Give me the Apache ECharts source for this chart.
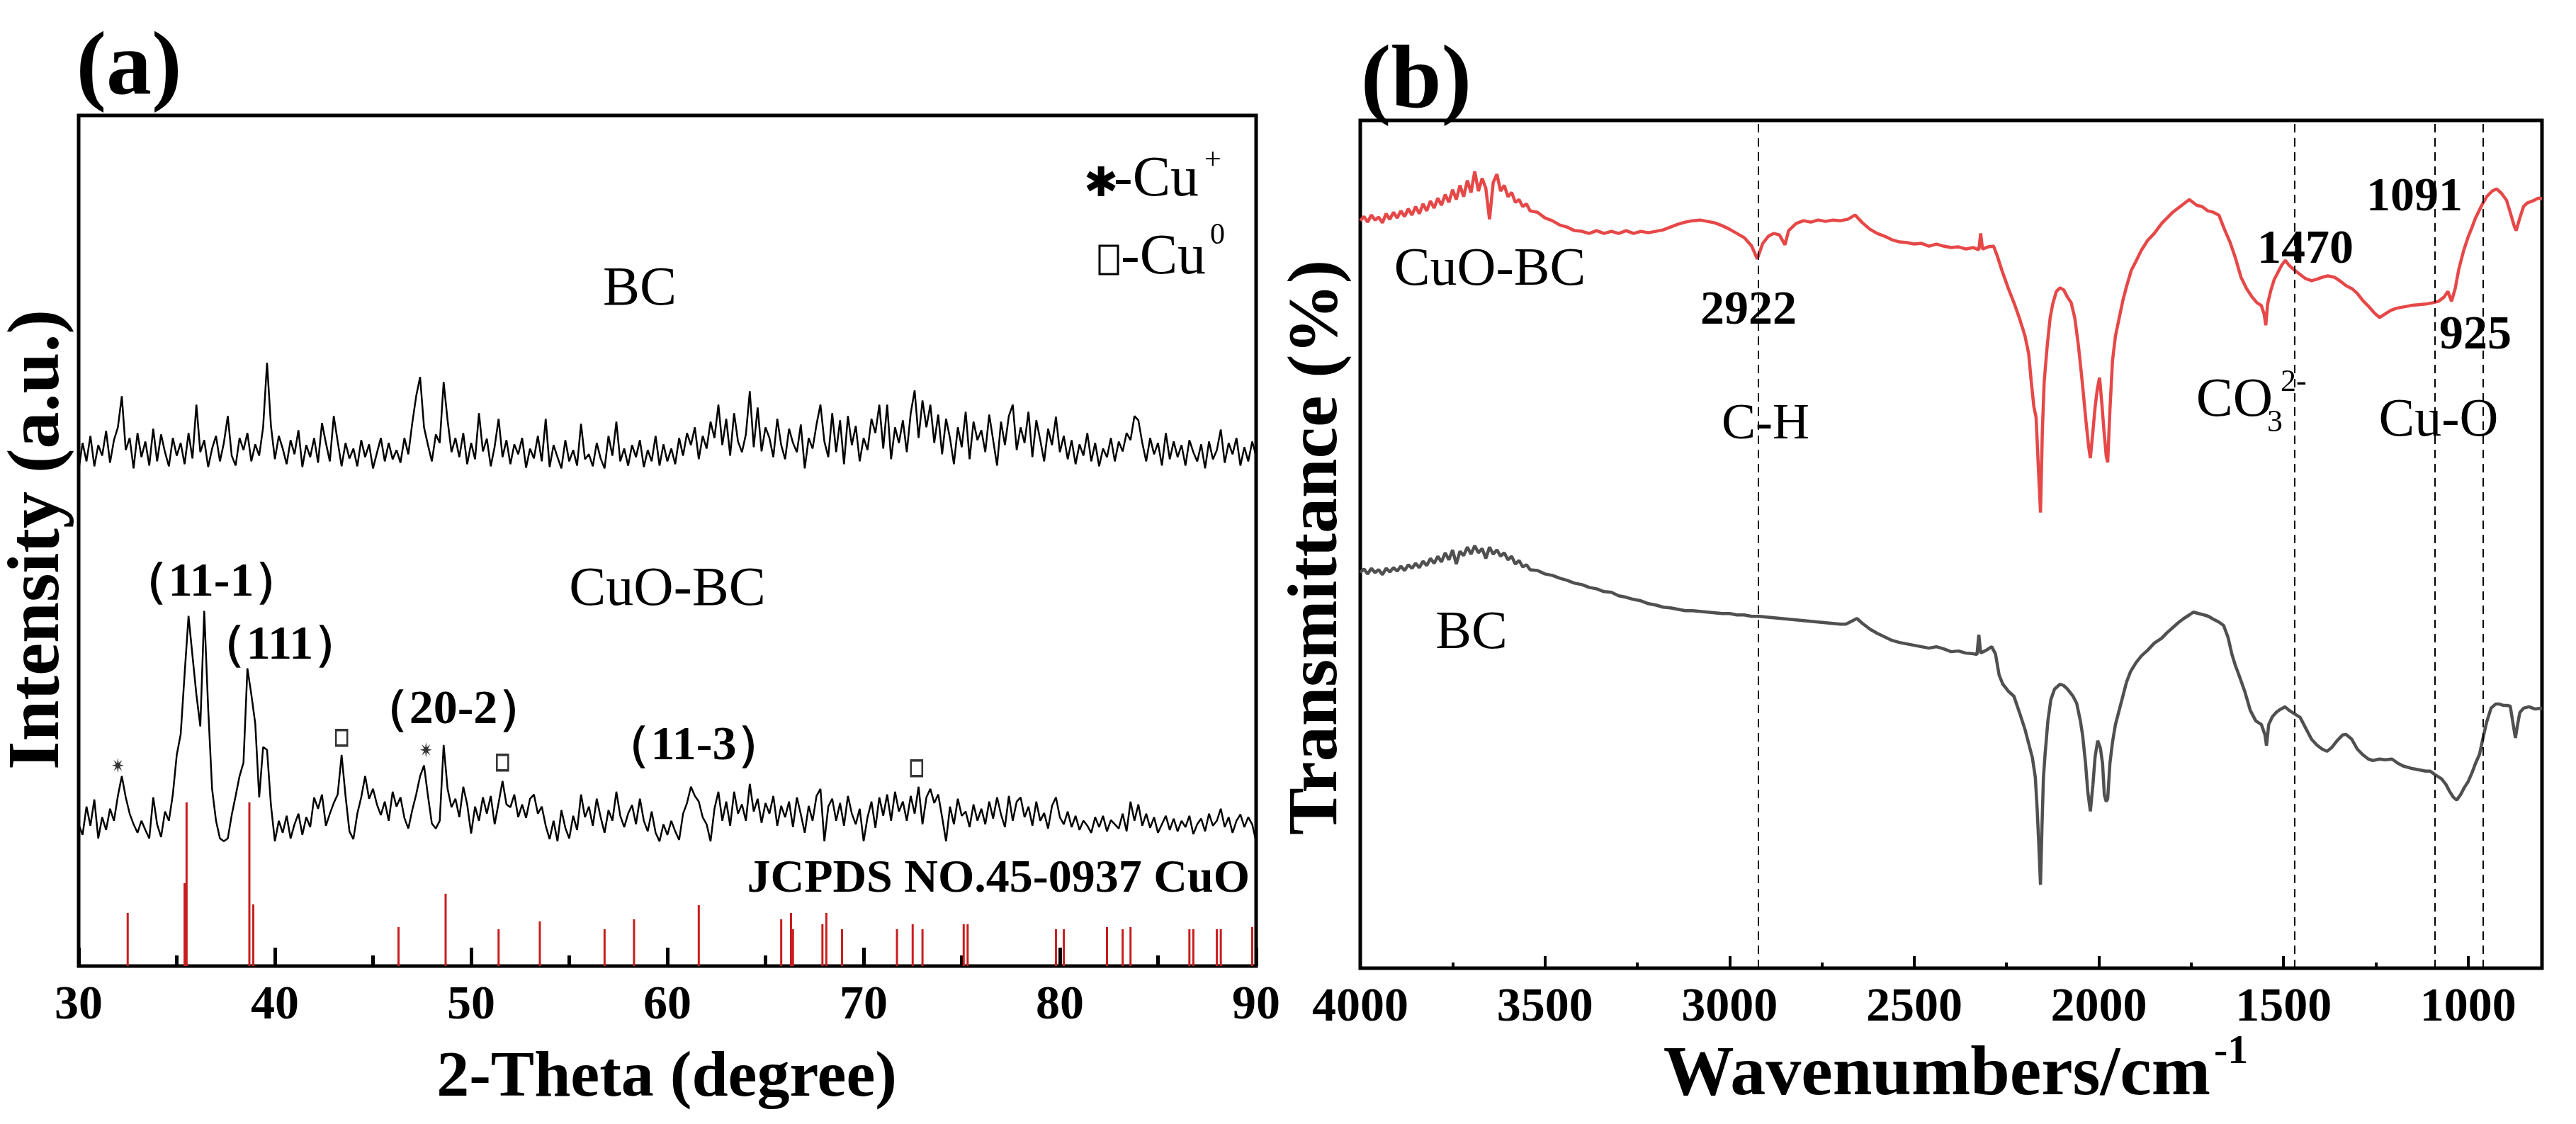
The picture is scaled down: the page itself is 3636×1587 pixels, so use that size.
<!DOCTYPE html>
<html>
<head>
<meta charset="utf-8">
<title>XRD and FTIR of CuO-BC / BC</title>
<script src="https://cdn.jsdelivr.net/npm/echarts@6/dist/echarts.min.js"></script>
<style>
  html, body { margin: 0; padding: 0; background: #fff; }
  #main { width: 3636px; height: 1587px; }
</style>
</head>
<body>
<div id="main"></div>
<script>
// (a) XRD, every 0.2 degree from 30 to 90
var xrdStart = 30;
var xrdStep = 0.2;
var xrdBC = [
  700,738,712,748,705,735,720,755,710,742,
  760,804,728,745,702,752,718,740,706,758,
  712,750,725,705,745,720,738,708,752,716,
  792,725,742,704,730,748,712,738,776,720,
  706,745,728,752,712,736,720,760,851,762,
  715,748,730,708,742,722,756,704,735,718,
  745,710,766,738,712,776,740,705,738,716,
  730,705,742,718,736,702,724,745,712,738,
  715,728,710,745,722,766,804,831,760,735,
  712,750,738,824,770,725,745,718,752,708,
  738,715,780,726,744,705,733,772,718,742,
  708,736,722,745,703,730,716,748,712,772,
  704,735,718,702,742,712,728,706,765,715,
  722,705,738,716,702,748,720,768,712,730,
  706,735,718,742,704,728,712,748,706,736,
  712,730,708,745,720,752,735,760,715,748,
  730,768,745,792,735,772,720,780,740,725,
  750,811,732,788,726,760,745,718,772,735,
  715,758,738,725,764,702,745,730,764,792,
  740,718,780,725,770,708,776,735,762,712,
  745,728,772,752,792,730,792,715,760,738,
  770,725,780,812,745,798,760,792,738,778,
  722,772,745,708,760,732,782,715,768,742,
  756,725,778,742,706,768,735,776,792,728,
  760,738,782,718,770,742,712,758,735,775,
  725,748,715,742,708,736,720,752,712,738,
  705,730,718,745,712,740,726,752,742,776,
  770,738,712,745,722,738,706,752,715,740,
  718,735,706,742,725,712,736,702,740,715,
  728,757,710,738,722,745,706,732,712,740,
  720
];
var xrdCuOBC = [
  200,185,225,198,235,180,210,192,222,205,
  240,268,238,215,200,188,205,192,180,238,
  200,182,218,205,242,298,327,412,494,438,
  383,338,501,364,250,205,180,176,180,213,
  240,268,287,420,383,342,238,309,305,227,
  176,205,188,212,180,200,215,185,210,196,
  238,222,242,198,215,230,242,298,240,190,
  179,215,238,268,236,250,228,213,232,205,
  246,225,238,209,194,220,242,268,283,240,
  201,194,205,312,250,224,236,210,253,228,
  187,225,205,238,215,240,200,230,261,228,
  224,242,210,228,209,236,242,215,225,198,
  179,205,176,220,195,180,212,192,242,210,
  225,198,236,210,188,220,205,246,212,196,
  215,227,200,236,205,190,218,188,176,200,
  185,205,190,178,215,230,253,240,232,210,
  200,176,222,246,205,232,198,246,215,228,
  205,257,218,236,202,230,215,240,198,226,
  210,232,196,238,214,188,226,205,240,250,
  176,225,236,205,230,198,240,215,200,222,
  176,210,232,195,238,212,242,205,246,218,
  232,205,240,215,253,200,238,250,230,242,
  210,176,225,200,236,212,218,196,228,205,
  222,200,232,208,238,214,196,240,205,232,
  238,210,225,198,232,205,216,194,226,238,
  210,200,218,196,212,192,205,198,188,210,
  196,212,190,206,200,194,215,190,232,205,
  228,198,215,195,210,188,200,212,192,208,
  190,205,196,212,186,200,208,190,215,198,
  205,222,196,210,188,205,214,196,210,200,
  176
];
// JCPDS No.45-0937 CuO reference lines
var jcpdsTheta = [32.5, 35.4, 35.5, 38.7, 38.9, 46.3, 48.7, 51.4, 53.5, 56.8, 58.3, 61.6, 65.8, 66.3, 66.4,
  67.9, 68.1, 68.9, 71.7, 72.5, 73.0, 75.1, 75.3, 79.8, 80.2, 82.4, 83.2, 83.6, 86.6, 86.8, 88.0, 88.2, 89.8];
var jcpdsHeight = [75, 117, 231, 231, 87, 55, 102, 52, 63, 52, 66, 86, 66, 75, 52,
  59, 75, 52, 52, 59, 52, 59, 59, 52, 52, 55, 52, 55, 52, 52, 52, 52, 55];
// peak markers: * = Cu+, open square = Cu0
var cuPlusPeaks = [[32.0, 283], [47.7, 305]];
var cu0Peaks = [[43.4, 322], [51.6, 287], [72.7, 279]];

// (b) FTIR, [wavenumber, transmittance (a.u.)]
var ftirCuOBC = [
  [4000,1058],[3990,1064],[3980,1056],[3970,1066],[3960,1059],[3950,1063],[3940,1055],[3930,1068],[3920,1060],[3910,1070],
  [3900,1062],[3890,1072],[3880,1064],[3870,1075],[3860,1066],[3850,1078],[3840,1068],[3830,1082],[3820,1072],[3810,1086],
  [3800,1076],[3790,1090],[3780,1080],[3770,1095],[3760,1084],[3750,1102],[3740,1088],[3730,1108],[3720,1092],[3710,1115],
  [3700,1098],[3690,1128],[3680,1100],[3670,1118],[3660,1104],[3650,1060],[3640,1112],[3630,1124],[3620,1100],[3610,1108],
  [3600,1092],[3590,1098],[3580,1084],[3570,1088],[3560,1078],[3550,1082],[3540,1072],[3520,1070],[3500,1062],[3480,1058],
  [3460,1052],[3440,1049],[3420,1044],[3400,1043],[3380,1040],[3360,1044],[3340,1040],[3320,1043],[3300,1040],[3280,1044],
  [3260,1040],[3240,1043],[3220,1041],[3200,1043],[3180,1045],[3160,1049],[3140,1053],[3120,1056],[3100,1058],[3080,1059],
  [3060,1057],[3040,1055],[3020,1051],[3000,1046],[2980,1040],[2960,1034],[2940,1022],[2925,1004],[2910,1026],[2895,1036],
  [2880,1040],[2865,1038],[2850,1024],[2840,1044],[2820,1054],[2800,1058],[2780,1056],[2760,1059],[2740,1057],[2720,1059],
  [2700,1058],[2680,1060],[2660,1066],[2640,1055],[2620,1046],[2600,1040],[2580,1036],[2560,1031],[2540,1028],[2520,1027],
  [2500,1025],[2480,1026],[2460,1022],[2440,1025],[2420,1022],[2400,1020],[2380,1021],[2360,1018],[2340,1020],[2325,1017],
  [2320,1040],[2315,1018],[2300,1021],[2285,1022],[2275,1008],[2262,987],[2245,962],[2230,942],[2215,920],[2200,895],
  [2190,870],[2183,830],[2176,795],[2170,780],[2163,700],[2158,645],[2153,760],[2148,830],[2140,880],[2132,920],
  [2125,940],[2115,958],[2105,963],[2095,960],[2085,950],[2075,942],[2065,920],[2055,880],[2045,830],[2035,775],
  [2028,740],[2023,722],[2016,760],[2010,795],[2004,820],[1998,836],[1992,800],[1986,760],[1980,725],[1976,716],
  [1970,790],[1963,860],[1955,895],[1945,920],[1935,945],[1925,965],[1912,988],[1900,1000],[1885,1016],[1868,1030],
  [1850,1040],[1830,1054],[1815,1062],[1800,1070],[1785,1076],[1770,1082],[1755,1088],[1745,1084],[1735,1080],[1720,1078],
  [1705,1072],[1690,1070],[1675,1066],[1660,1046],[1645,1028],[1630,1005],[1615,978],[1600,962],[1585,950],[1572,942],
  [1560,938],[1552,925],[1548,910],[1543,940],[1535,958],[1525,975],[1515,985],[1505,995],[1495,1002],[1485,995],
  [1470,988],[1455,982],[1440,976],[1424,973],[1410,975],[1395,978],[1380,980],[1362,978],[1345,972],[1330,966],
  [1315,962],[1300,955],[1285,945],[1270,937],[1255,928],[1240,921],[1225,926],[1210,931],[1195,934],[1175,936],
  [1155,938],[1135,939],[1115,940],[1095,942],[1080,944],[1065,950],[1055,958],[1045,944],[1035,962],[1025,990],
  [1012,1016],[1000,1035],[990,1048],[980,1062],[965,1078],[950,1092],[935,1100],[923,1103],[910,1097],[896,1087],
  [885,1068],[875,1050],[870,1044],[860,1062],[850,1078],[840,1083],[825,1086],[810,1090],[800,1089]
];
var ftirBC = [
  [4000,560],[3990,565],[3980,558],[3970,566],[3960,560],[3950,564],[3940,557],[3930,566],[3920,561],[3910,567],
  [3900,562],[3890,569],[3880,563],[3870,571],[3860,566],[3850,573],[3840,567],[3830,576],[3820,570],[3810,580],
  [3800,573],[3790,583],[3780,575],[3770,588],[3760,578],[3750,592],[3740,572],[3730,590],[3720,584],[3710,596],
  [3700,586],[3690,598],[3680,588],[3670,594],[3660,580],[3650,596],[3640,586],[3630,592],[3620,583],[3610,588],
  [3600,578],[3590,583],[3580,572],[3570,577],[3560,568],[3550,571],[3540,564],[3520,563],[3500,558],[3480,556],
  [3460,552],[3440,549],[3420,545],[3400,543],[3380,539],[3360,537],[3340,533],[3320,532],[3300,527],[3280,525],
  [3260,522],[3240,520],[3220,516],[3200,514],[3180,511],[3160,510],[3140,508],[3120,506],[3100,506],[3080,505],
  [3060,504],[3040,503],[3020,502],[3000,502],[2980,500],[2960,500],[2940,498],[2920,498],[2900,497],[2880,496],
  [2860,495],[2840,494],[2820,493],[2800,492],[2780,491],[2760,490],[2740,489],[2720,488],[2700,487],[2685,487],
  [2670,491],[2655,495],[2640,488],[2620,480],[2600,474],[2580,469],[2560,464],[2540,461],[2520,459],[2500,457],
  [2480,455],[2460,453],[2440,455],[2420,452],[2400,448],[2380,449],[2360,446],[2340,445],[2330,444],[2325,472],
  [2320,446],[2305,450],[2290,455],[2280,445],[2270,415],[2260,402],[2245,392],[2230,385],[2215,362],[2200,338],
  [2190,318],[2180,298],[2172,270],[2167,225],[2163,180],[2158,118],[2154,200],[2150,270],[2146,300],[2138,350],
  [2130,380],[2120,395],[2105,402],[2095,400],[2085,395],[2070,385],[2060,375],[2050,350],[2044,330],[2036,290],
  [2030,250],[2023,222],[2016,260],[2010,300],[2003,322],[1996,312],[1990,290],[1985,245],[1980,236],[1976,240],
  [1970,290],[1963,320],[1955,345],[1945,365],[1935,385],[1925,405],[1914,420],[1900,432],[1885,442],[1868,450],
  [1850,460],[1830,467],[1815,475],[1800,482],[1785,489],[1770,495],[1755,500],[1744,504],[1730,502],[1715,500],
  [1703,498],[1690,494],[1675,490],[1662,485],[1650,468],[1640,445],[1630,428],[1620,414],[1605,392],[1590,365],
  [1575,350],[1560,345],[1550,330],[1546,315],[1540,345],[1530,356],[1520,362],[1510,366],[1496,370],[1485,365],
  [1470,360],[1455,355],[1440,340],[1424,324],[1410,316],[1395,310],[1382,307],[1370,312],[1355,322],[1340,330],
  [1331,331],[1315,324],[1300,310],[1285,302],[1270,296],[1258,294],[1240,296],[1225,295],[1206,296],[1190,290],
  [1175,286],[1155,283],[1135,281],[1115,279],[1103,279],[1090,274],[1072,268],[1060,260],[1050,250],[1040,242],
  [1031,238],[1020,246],[1010,256],[1000,264],[990,276],[980,290],[969,303],[960,325],[950,348],[938,368],
  [925,374],[917,374],[905,372],[895,372],[886,371],[878,345],[872,326],[866,345],[860,362],[850,368],
  [835,370],[820,367],[800,368]
];
// dashed band positions as drawn
var ftirBands = [2922, 1470, 1091, 960];

var serif = '"Liberation Serif", "Times New Roman", serif';
var starPath = 'path://M0 -10 L1.34 -3.23 L7.07 -7.07 L3.23 -1.34 L10 0 L3.23 1.34 L7.07 7.07 L1.34 3.23 L0 10 L-1.34 3.23 L-7.07 7.07 L-3.23 1.34 L-10 0 L-3.23 -1.34 L-7.07 -7.07 L-1.34 -3.23 Z';

var myChart = echarts.init(document.getElementById('main'));

function withTheta(values) {
  return values.map(function (v, i) {
    return [+(xrdStart + i * xrdStep).toFixed(1), v];
  });
}

// a piece of text placed by its centre
function txt(text, x, y, size, opts) {
  opts = opts || {};
  var align = opts.align || 'center';
  return {
    type: 'text', x: x, y: y, z: 100,
    rotation: opts.rotate ? Math.PI / 2 : 0,
    style: {
      text: text, fill: '#000',
      font: (opts.bold ? 'bold ' : '') + size + 'px ' + (opts.family || serif),
      align: align, textAlign: align,
      verticalAlign: 'middle', textVerticalAlign: 'middle'
    }
  };
}

var tickLabel = {
  color: '#000', fontFamily: serif, fontWeight: 'bold', fontSize: 68, margin: 22,
  formatter: function (v) { return String(v); }
};

var option = {
  animation: false,
  backgroundColor: '#fff',
  grid: [
    { left: 111, top: 163, width: 1662, height: 1201, show: true, borderColor: '#000', borderWidth: 5 },
    { left: 1920, top: 170, width: 1668, height: 1197, show: true, borderColor: '#000', borderWidth: 5 }
  ],
  xAxis: [
    {
      gridIndex: 0, type: 'value', min: 30, max: 90, interval: 10,
      axisLine: { show: false },
      axisTick: { inside: true, length: 26, lineStyle: { color: '#000', width: 5 } },
      minorTick: { show: true, splitNumber: 2, length: 15, lineStyle: { color: '#000', width: 5 } },
      axisLabel: tickLabel,
      splitLine: { show: false }
    },
    {
      gridIndex: 1, type: 'value', min: 800, max: 4000, inverse: true,
      axisLine: { show: false },
      axisTick: { inside: true, length: 17, lineStyle: { color: '#000', width: 4 } },
      minorTick: { show: true, splitNumber: 2, length: 8, lineStyle: { color: '#000', width: 4 } },
      axisLabel: Object.assign({ showMinLabel: false }, tickLabel),
      splitLine: { show: false }
    }
  ],
  yAxis: [
    { gridIndex: 0, type: 'value', min: 0, max: 1200, show: false },
    { gridIndex: 1, type: 'value', min: 0, max: 1200, show: false }
  ],
  series: [
    {
      name: 'BC', type: 'line', xAxisIndex: 0, yAxisIndex: 0,
      data: withTheta(xrdBC), symbol: 'none',
      lineStyle: { color: '#000', width: 2.5 }
    },
    {
      name: 'CuO-BC', type: 'line', xAxisIndex: 0, yAxisIndex: 0,
      data: withTheta(xrdCuOBC), symbol: 'none',
      lineStyle: { color: '#000', width: 2.5 }
    },
    {
      name: 'JCPDS', type: 'bar', xAxisIndex: 0, yAxisIndex: 0,
      data: jcpdsTheta.map(function (t, i) { return [t, jcpdsHeight[i]]; }),
      barWidth: 3, itemStyle: { color: '#c81e1e' }
    },
    {
      name: 'Cu+', type: 'scatter', xAxisIndex: 0, yAxisIndex: 0,
      data: cuPlusPeaks, symbol: starPath, symbolSize: [17, 22],
      itemStyle: { color: '#000' }
    },
    {
      name: 'Cu0', type: 'scatter', xAxisIndex: 0, yAxisIndex: 0,
      data: cu0Peaks, symbol: 'rect', symbolSize: [16, 22],
      itemStyle: { color: '#fff', borderColor: '#000', borderWidth: 3 }
    },
    {
      name: 'BC ftir', type: 'line', xAxisIndex: 1, yAxisIndex: 1,
      data: ftirBC, symbol: 'none',
      lineStyle: { color: '#505050', width: 4.5 },
      markLine: {
        silent: true, symbol: ['none', 'none'],
        label: { show: false },
        lineStyle: { color: '#000', width: 2, type: [12, 8] },
        data: ftirBands.map(function (v) { return { xAxis: v }; })
      }
    },
    {
      name: 'CuO-BC ftir', type: 'line', xAxisIndex: 1, yAxisIndex: 1,
      data: ftirCuOBC, symbol: 'none',
      lineStyle: { color: '#e64848', width: 4.5 }
    }
  ],
  graphic: [
    // panel (a)
    txt('(a)', 182, 99, 128, { bold: true }),
    txt('BC', 903, 410, 78),
    txt('CuO-BC', 942, 834, 78),
    txt('（11-1）', 298, 823, 68, { bold: true }),
    txt('（111）', 395, 912, 68, { bold: true }),
    txt('（20-2）', 640, 1003, 68, { bold: true }),
    txt('（11-3）', 979, 1054, 68, { bold: true }),
    txt('JCPDS NO.45-0937 CuO', 1764, 1242, 66, { bold: true, align: 'right' }),
    txt('2-Theta (degree)', 941, 1523, 92, { bold: true }),
    txt('Intensity (a.u.)', 55, 762, 104, { bold: true, rotate: true }),
    txt('✱', 1554, 262, 58, { family: '"DejaVu Sans", sans-serif' }),
    txt('-Cu', 1572, 255, 80, { align: 'left' }),
    txt('+', 1700, 227, 42, { align: 'left' }),
    {
      type: 'rect', z: 100,
      shape: { x: 1552, y: 347, width: 26, height: 40 },
      style: { fill: '#fff', stroke: '#000', lineWidth: 3 }
    },
    txt('-Cu', 1582, 365, 80, { align: 'left' }),
    txt('0', 1708, 333, 42, { align: 'left' }),
    // panel (b)
    txt('(b)', 1999, 118, 128, { bold: true }),
    txt('CuO-BC', 2103, 382, 76),
    txt('2922', 2468, 439, 68, { bold: true }),
    txt('C-H', 2492, 600, 72),
    txt('1470', 3254, 353, 68, { bold: true }),
    txt('1091', 3408, 279, 68, { bold: true }),
    txt('925', 3494, 474, 68, { bold: true }),
    txt('CO', 3154, 567, 78),
    txt('3', 3200, 597, 44, { align: 'left' }),
    txt('2-', 3219, 540, 44, { align: 'left' }),
    txt('Cu-O', 3442, 595, 76),
    txt('BC', 2077, 895, 76),
    txt('Wavenumbers/cm', 3120, 1519, 100, { bold: true, align: 'right' }),
    txt('-1', 3125, 1486, 58, { bold: true, align: 'left' }),
    txt('Transmittance (%)', 1860, 773, 100, { bold: true, rotate: true })
  ]
};

myChart.setOption(option);
</script>
</body>
</html>
